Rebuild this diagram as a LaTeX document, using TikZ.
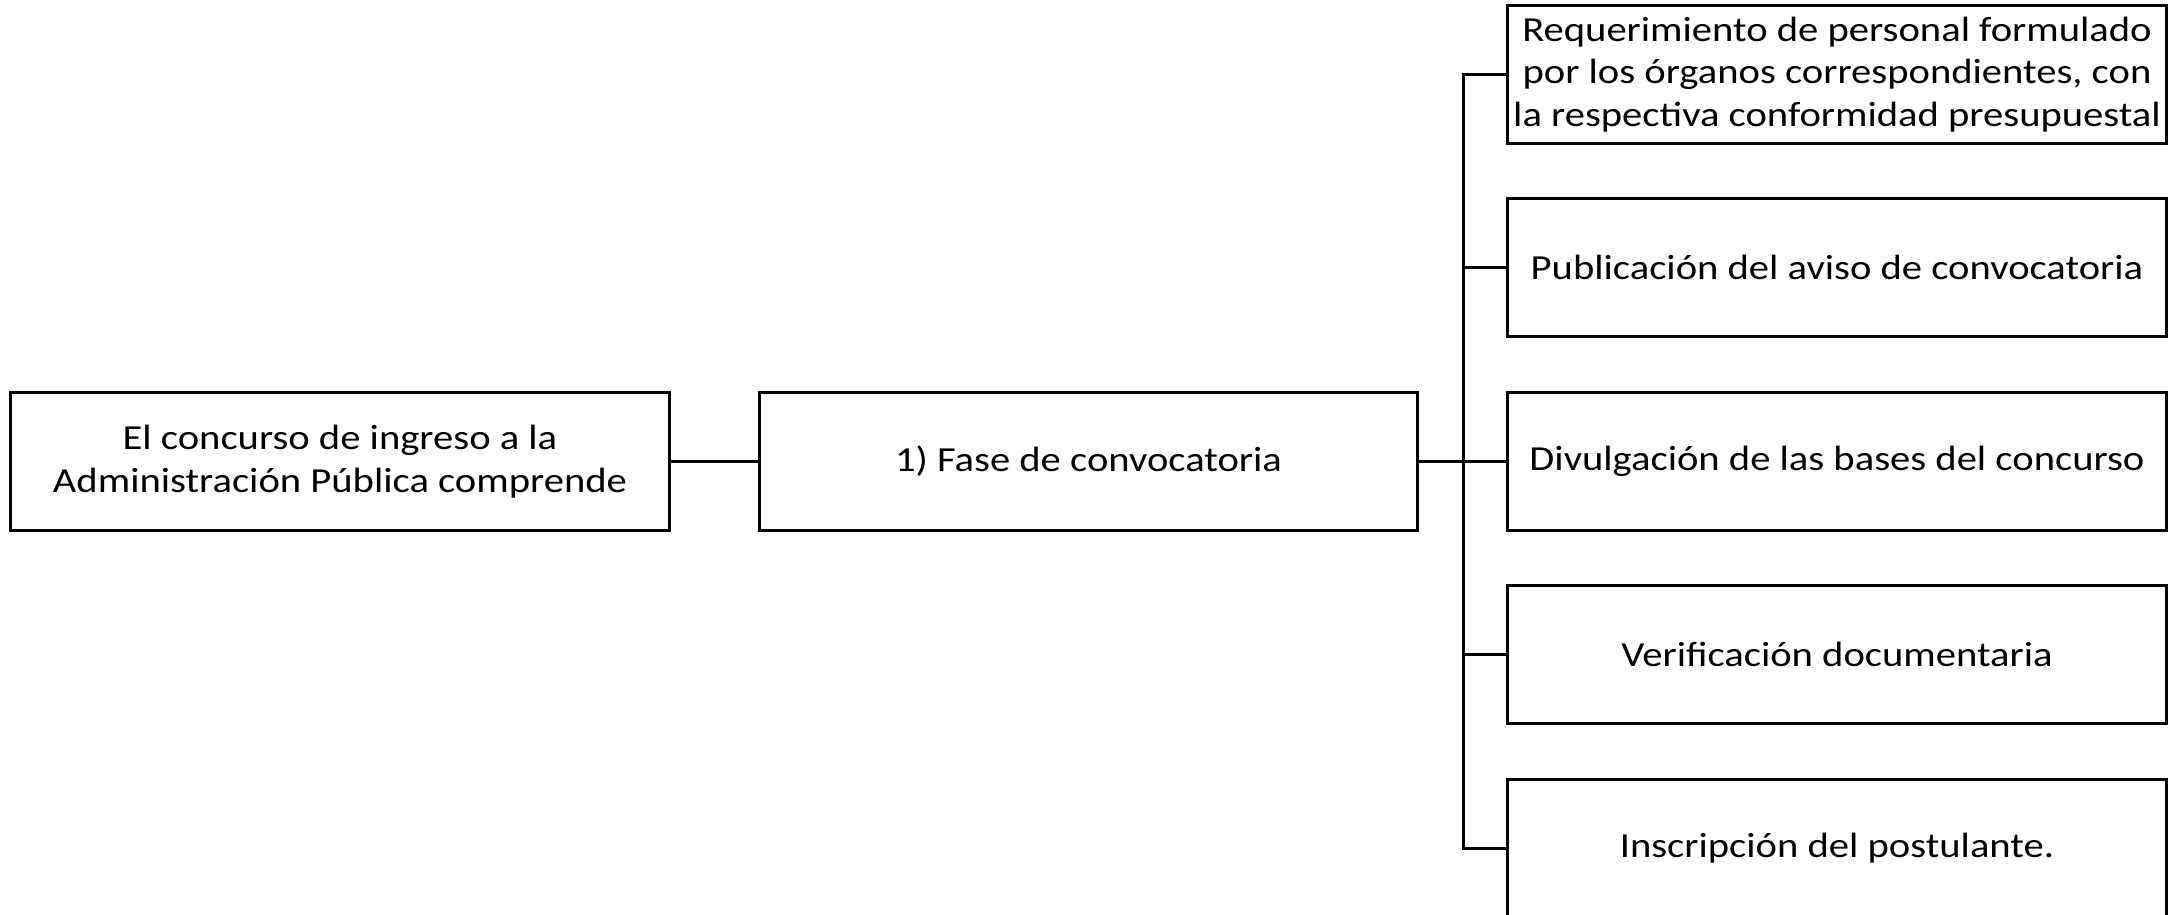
\documentclass[tikz,border=0pt]{standalone}
\usepackage{fontspec}
\setmainfont{Carlito}[FakeStretch=1.155]
\begin{document}
\begin{tikzpicture}[x=0.01cm,y=-0.01cm,
  box/.style={draw=black, line width=0.85pt, minimum width=6.58cm, minimum height=1.37cm, inner sep=0pt, align=center, font=\fontsize{10pt}{12.1pt}\selectfont},
  link/.style={draw=black, line width=0.85pt}]
\useasboundingbox (0,0) rectangle (2177,915);
\begin{scope}
\clip (0,0) rectangle (2177,915);
\node[box] (root) at (340,461.5) {El concurso de ingreso a la\\Administración Pública comprende};
\node[box] (fase) at (1088.5,461.5) {1) Fase de convocatoria};
\node[box] (a) at (1837,74.5) {Requerimiento de personal formulado\\por los órganos correspondientes, con\\la respectiva conformidad presupuestal};
\node[box] (b) at (1837,267.5) {Publicación del aviso de convocatoria};
\node[box] (c) at (1837,461.5) {Divulgación de las bases del concurso};
\node[box] (d) at (1837,654.5) {Verificación documentaria};
\node[box] (e) at (1837,848.5) {Inscripción del postulante.};
\coordinate (bus) at (1463,0);
\draw[link] (root.east) -- (fase.west);
\draw[link] (fase.east) -- (fase.east -| bus);
\draw[link] (a.west) -- (a.west -| bus) -- (e.west -| bus) -- (e.west);
\draw[link] (b.west) -- (b.west -| bus);
\draw[link] (c.west) -- (c.west -| bus);
\draw[link] (d.west) -- (d.west -| bus);
\end{scope}
\end{tikzpicture}
\end{document}
